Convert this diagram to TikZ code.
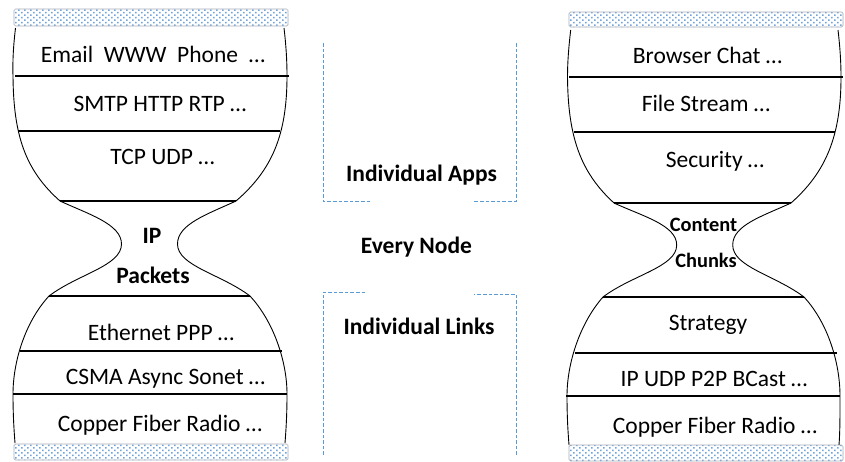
\documentclass[tikz,border=0pt]{standalone}
\usepackage{fontspec}
\setmainfont{Carlito}
\usetikzlibrary{patterns}
\definecolor{dashblue}{HTML}{5B9BD5}
\definecolor{dotblue}{HTML}{6FA3DC}
\definecolor{bargrey}{HTML}{A8AEB8}
\pgfdeclarepatternformonly{bardots}{\pgfqpoint{-1pt}{-1pt}}{\pgfqpoint{7pt}{5pt}}{\pgfqpoint{6pt}{5pt}}{%
  \pgfpathrectangle{\pgfqpoint{0pt}{0pt}}{\pgfqpoint{1.5pt}{1.5pt}}%
  \pgfpathrectangle{\pgfqpoint{3pt}{2.5pt}}{\pgfqpoint{1.5pt}{1.5pt}}%
  \pgfusepath{fill}}
\tikzset{
  x=1pt,y=-1pt,
  bar/.style={draw=bargrey,line width=0.7pt,rounded corners=1.5pt,pattern=bardots,pattern color=dotblue},
  rim/.style={line width=0.9pt,black},
  layer/.style={line width=1.7pt,black},
  dashline/.style={draw=dashblue,line width=1pt,dash pattern=on 3.6pt off 2pt},
  txt/.style={inner sep=0pt,font=\fontsize{23.5}{26}\selectfont,text=black},
  bold/.style={inner sep=0pt,font=\fontsize{23.5}{26}\selectfont\bfseries,text=black},
  boldsmall/.style={inner sep=0pt,font=\fontsize{20.4}{24}\selectfont\bfseries,text=black}
}
\begin{document}
\begin{tikzpicture}
\useasboundingbox (0,0) rectangle (845,461);
% left hourglass
\draw[bar] (14,9) rectangle (288,26);
\draw[bar] (14,444) rectangle (288,460);
\draw[rim] (15.5,28) .. controls (13.5,45) and (12.5,60) .. (13,76) .. controls (13.5,135) and (25,170) .. (60,201)
  .. controls (88,214) and (121.5,224) .. (121.5,244) .. controls (121.5,266) and (78,274) .. (49,296)
  .. controls (25,322) and (13,362) .. (13,394) .. controls (13,415) and (14,430) .. (15,443);
\draw[rim] (284,28) .. controls (286,45) and (287,60) .. (287,76) .. controls (287,135) and (272,170) .. (236,201)
  .. controls (208,214) and (177.5,224) .. (177.5,244) .. controls (177.5,266) and (221,274) .. (250,296)
  .. controls (274,322) and (287,362) .. (287,394) .. controls (287,415) and (286,430) .. (285,443);
\draw[layer] (15,76) -- (289,76);
\draw[layer] (18,131) -- (280,131);
\draw[layer] (60,201) -- (236,201);
\draw[layer] (49,296) -- (250,296);
\draw[layer] (20,351) -- (282,351);
\draw[layer] (13,394) -- (287,394);
\node[txt] (la) at (153,54) {Email\ \ WWW\ \ Phone\ \ …};
\node[txt] (lb) at (160,104) {SMTP HTTP RTP …};
\node[txt] (lc) at (162.5,157) {TCP UDP …};
\node[bold] (ld) at (152,236) {IP};
\node[bold] (le) at (153,275) {Packets};
\node[txt] (lf) at (161,332) {Ethernet PPP …};
\node[txt] (lg) at (165.5,379) {CSMA Async Sonet …};
\node[txt] (lh) at (160,425) {Copper Fiber Radio …};
% middle
\draw[dashline] (323,43) -- (323,201) -- (371,201);
\draw[dashline] (516,43) -- (516,201) -- (474,201);
\draw[dashline] (323,455) -- (323,292) -- (365,292);
\draw[dashline] (516,455) -- (516,294) -- (474,294);
\node[bold] (ma) at (421.5,175) {Individual Apps};
\node[bold] (mb) at (416.5,247) {Every Node};
\node[bold] (mc) at (419,326) {Individual Links};
% right hourglass
\draw[bar] (569,12) rectangle (843,27);
\draw[bar] (569,445) rectangle (843,461);
\draw[rim] (570.7,30) .. controls (568.7,47) and (567.5,62) .. (567.5,77) .. controls (568,136) and (580,172) .. (614,203)
  .. controls (642,216) and (676.7,225) .. (676.7,245) .. controls (676.7,267) and (632,275) .. (603,297)
  .. controls (580,323) and (567,363) .. (567,396) .. controls (567,417) and (568,432) .. (569,445);
\draw[rim] (838,30) .. controls (840,47) and (841,62) .. (841,77) .. controls (841,136) and (826,172) .. (791,203)
  .. controls (763,216) and (732.7,225) .. (732.7,245) .. controls (732.7,267) and (775,275) .. (804,297)
  .. controls (828,323) and (840,363) .. (840,396) .. controls (840,417) and (840,432) .. (839,445);
\draw[layer] (569,77) -- (843,77);
\draw[layer] (574,132) -- (835,132);
\draw[layer] (614,203) -- (791,203);
\draw[layer] (603,297) -- (804,297);
\draw[layer] (575,353) -- (837,353);
\draw[layer] (566,396) -- (840,396);
\node[txt] (ra) at (707.5,55) {Browser Chat …};
\node[txt] (rb) at (706,103) {File Stream …};
\node[txt] (rc) at (715,161) {Security …};
\node[boldsmall] (rd) at (703.5,225) {Content};
\node[boldsmall] (re) at (706,260) {Chunks};
\node[txt] (rf) at (708,325) {Strategy};
\node[txt] (rg) at (714,379) {IP UDP P2P BCast …};
\node[txt] (rh) at (715,427) {Copper Fiber Radio …};
\end{tikzpicture}
\end{document}
